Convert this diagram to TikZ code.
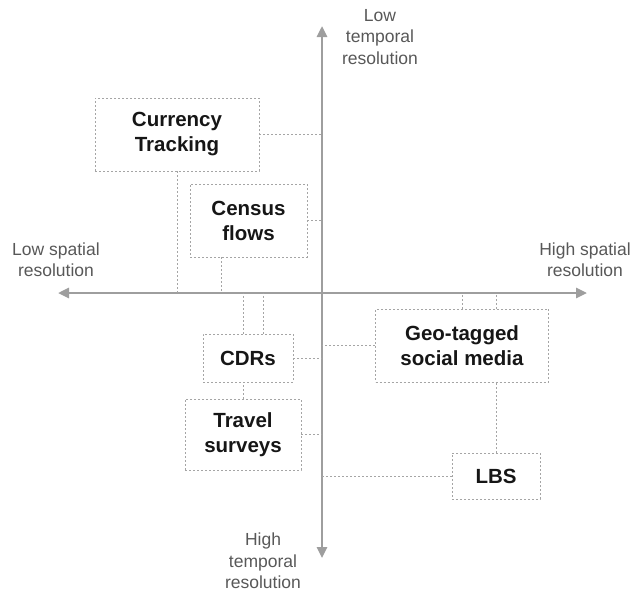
\documentclass[tikz,border=0pt]{standalone}
\usepackage{fontspec}
\setmainfont{Liberation Sans}
\usetikzlibrary{arrows.meta}
\definecolor{axisgray}{RGB}{158,158,158}
\definecolor{dotgray}{RGB}{165,165,165}
\definecolor{labelgray}{RGB}{88,88,88}
\definecolor{boxtext}{RGB}{22,22,22}

\begin{document}
\begin{tikzpicture}[x=1pt,y=-1pt,
                    data node/.style={rectangle,draw=dotgray,dash pattern=on 2pt off 2pt,line width=0.8pt,
                                      inner sep=0pt,align=center,text=boxtext,
                                      font=\fontsize{20.5}{25}\selectfont\bfseries},
                    axis label/.style={align=center,text=labelgray,font=\fontsize{17.5}{21.5}\selectfont},
                    link/.style={draw=dotgray,dash pattern=on 2pt off 2pt,line width=0.8pt},
                    axis line/.style={draw=axisgray,line width=2.6pt,
                                      {Triangle[length=11pt,width=10pt]}-{Triangle[length=11pt,width=10pt]}}]

       \useasboundingbox (0,0) rectangle (634,592);

       % axes
       \coordinate (o) at (322,293);
       \coordinate (left) at (58,293);
       \coordinate (right) at (587,293);
       \coordinate (top) at (322,26);
       \coordinate (bottom) at (322,558);
       \draw[axis line] (left) -- (right);
       \draw[axis line] (top) -- (bottom);

       \node[axis label] (lowt) at (380,37) {Low\\temporal\\resolution};
       \node[axis label] (hight) at (263,561) {High\\temporal\\resolution};
       \node[axis label] (lows) at (56,259.5) {Low spatial\\resolution};
       \node[axis label] (highs) at (585,259.5) {High spatial\\resolution};

       % data sources
       \node[data node,minimum width=164pt,minimum height=73pt] (cur) at (177,134.5) {Currency\\Tracking};
       \node[data node,minimum width=117pt,minimum height=73pt] (cen) at (248.5,220.5) {Census\\flows};
       \node[data node,minimum width=90pt,minimum height=48pt] (cdr) at (248,358) {CDRs};
       \node[data node,minimum width=116pt,minimum height=71pt] (trv) at (243,434.5) {Travel\\surveys};
       \node[data node,minimum width=173pt,minimum height=73pt] (geo) at (462,345.5) {Geo-tagged\\social media};
       \node[data node,minimum width=88pt,minimum height=46pt] (lbs) at (496,476) {LBS};

       \path[link]
         (cur.east) -- (cur.east -| o)
         (cur.south) -- (cur.south |- o)
         (cen.east) -- (cen.east -| o)
         ([xshift=-27.5pt]cen.south) -- ([xshift=-27.5pt]cen.south |- o)
         (trv.north |- cdr.north) -- (trv.north |- o)
         ([xshift=15.3pt]cdr.north) -- ([xshift=15.3pt]cdr.north |- o)
         (cdr.east) -- (cdr.east -| o)
         (trv.north) -- (trv.north |- cdr.south)
         (trv.east) -- (trv.east -| o)
         (geo.west) -- (geo.west -| o)
         (geo.north) -- (geo.north |- o)
         (lbs.north |- geo.north) -- (lbs.north |- o)
         (lbs.north) -- (lbs.north |- geo.south)
         (lbs.west) -- (lbs.west -| o);

\end{tikzpicture}
\end{document}
